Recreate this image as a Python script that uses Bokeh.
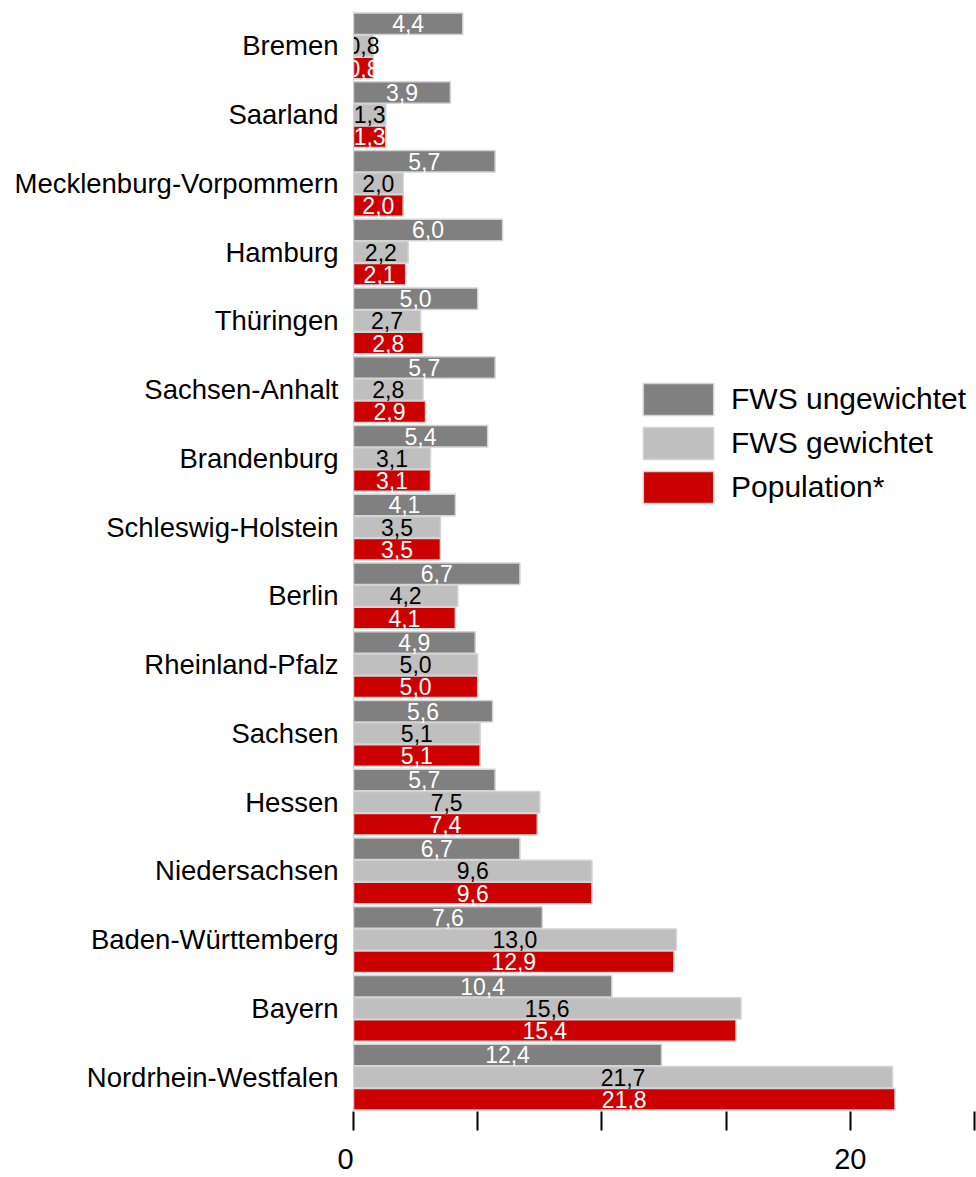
from bokeh.plotting import figure
from bokeh.models import FactorRange, Range1d, Legend, LegendItem, ColumnDataSource, FixedTicker
from bokeh.transform import dodge
from bokeh.core.properties import value
from bokeh.embed import file_html
from bokeh.resources import INLINE

states = ["Bremen", "Saarland", "Mecklenburg-Vorpommern", "Hamburg", "Thüringen",
          "Sachsen-Anhalt", "Brandenburg", "Schleswig-Holstein", "Berlin",
          "Rheinland-Pfalz", "Sachsen", "Hessen", "Niedersachsen",
          "Baden-Württemberg", "Bayern", "Nordrhein-Westfalen"]
fws_ungewichtet = [4.4, 3.9, 5.7, 6.0, 5.0, 5.7, 5.4, 4.1, 6.7, 4.9, 5.6, 5.7, 6.7, 7.6, 10.4, 12.4]
fws_gewichtet = [0.8, 1.3, 2.0, 2.2, 2.7, 2.8, 3.1, 3.5, 4.2, 5.0, 5.1, 7.5, 9.6, 13.0, 15.6, 21.7]
population = [0.8, 1.3, 2.0, 2.1, 2.8, 2.9, 3.1, 3.5, 4.1, 5.0, 5.1, 7.4, 9.6, 12.9, 15.4, 21.8]
series_names = ["FWS ungewichtet", "FWS gewichtet", "Population*"]
x_ticks = [0, 5, 10, 15, 20, 25]
x_tick_labels = {0: "0\u00a0\u00a0", 5: "", 10: "", 15: "", 20: "20", 25: ""}

FONT = "Liberation Sans"

def fmt(v):
    return f"{v:.1f}".replace(".", ",")

src = ColumnDataSource(dict(
    state=states,
    u=fws_ungewichtet, g=fws_gewichtet, p=population,
    u_mid=[v / 2 for v in fws_ungewichtet],
    g_mid=[v / 2 for v in fws_gewichtet],
    p_mid=[v / 2 for v in population],
    u_txt=[fmt(v) for v in fws_ungewichtet],
    g_txt=[fmt(v) for v in fws_gewichtet],
    p_txt=[fmt(v) for v in population],
))

p = figure(width=976, height=1177,
           y_range=FactorRange(*states[::-1]),
           x_range=Range1d(0, 25),
           output_backend="svg", toolbar_location=None,
           min_border_left=353, min_border_right=2, min_border_top=11, min_border_bottom=60)

off = 0.322
hgt = 0.31
line_c = "#d4d4d4"
r1 = p.hbar(y=dodge("state", off, range=p.y_range), left=0, right="u", height=hgt,
            source=src, fill_color="#808080", line_color=line_c, line_width=1.5)
r2 = p.hbar(y=dodge("state", 0, range=p.y_range), left=0, right="g", height=hgt,
            source=src, fill_color="#bfbfbf", line_color=line_c, line_width=1.5)
r3 = p.hbar(y=dodge("state", -off, range=p.y_range), left=0, right="p", height=hgt,
            source=src, fill_color="#cc0000", line_color=line_c, line_width=1.5)

for col, txt, o, c in [("u_mid", "u_txt", off, "white"),
                       ("g_mid", "g_txt", 0, "black"),
                       ("p_mid", "p_txt", -off, "white")]:
    p.text(x=col, y=dodge("state", o, range=p.y_range), text=txt, source=src,
           text_align="center", text_baseline="middle", text_color=c,
           text_font=value(FONT), text_font_size=value("23px"))

legend = Legend(items=[LegendItem(label=series_names[0], renderers=[r1]),
                       LegendItem(label=series_names[1], renderers=[r2]),
                       LegendItem(label=series_names[2], renderers=[r3])],
                location=(281, 604), glyph_width=88, glyph_height=40,
                label_text_font=FONT, label_text_font_size="30px",
                label_text_color="black",
                label_standoff=9, spacing=4, padding=0, margin=0,
                border_line_color=None, background_fill_alpha=0)
p.add_layout(legend, "center")

p.xgrid.visible = False
p.ygrid.visible = False
p.outline_line_color = None

xa = p.xaxis[0]
xa.ticker = FixedTicker(ticks=x_ticks)
xa.major_label_overrides = x_tick_labels
xa.axis_line_color = None
xa.major_tick_in = 0
xa.major_tick_out = 19
xa.major_tick_line_width = 2
xa.major_tick_line_color = "black"
xa.minor_tick_line_color = None
xa.major_label_standoff = 12
xa.major_label_text_font = FONT
xa.major_label_text_font_size = "29px"
xa.major_label_text_color = "black"

ya = p.yaxis[0]
ya.axis_line_color = "#d0d0d0"
ya.axis_line_width = 1
ya.major_tick_line_color = None
ya.minor_tick_line_color = None
ya.major_tick_in = 0
ya.major_tick_out = 0
ya.major_label_standoff = 15
ya.major_label_text_font = FONT
ya.major_label_text_font_size = "27.5px"
ya.major_label_text_color = "black"

open("out.html", "w").write(file_html(p, INLINE))
